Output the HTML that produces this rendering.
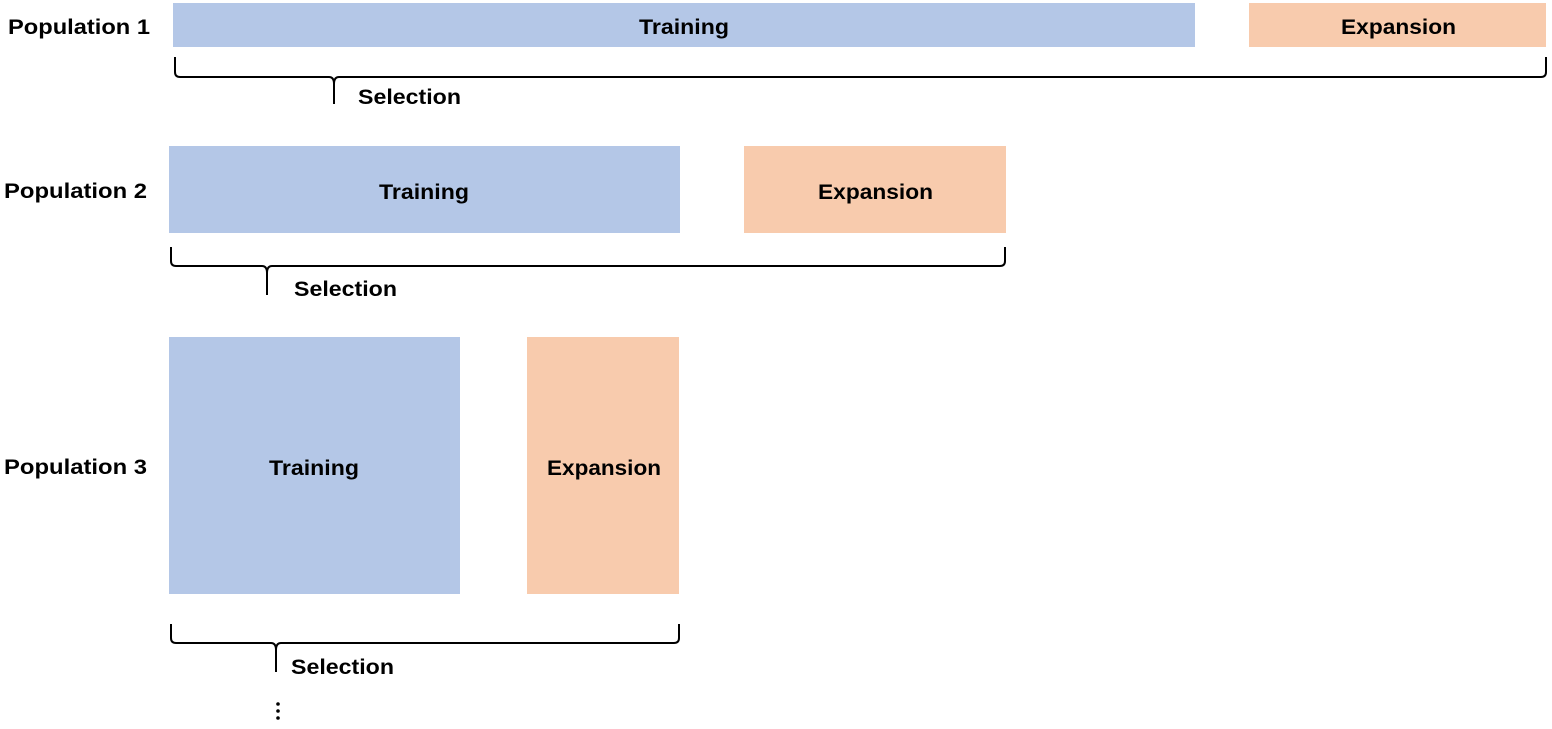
<!DOCTYPE html>
<html><head><meta charset="utf-8"><style>
html,body{margin:0;padding:0;background:#fff;}
svg{display:block;}
text{font-family:"Liberation Sans",sans-serif;font-weight:bold;font-size:21px;fill:#000;}
</style></head><body>
<svg width="1552" height="729" viewBox="0 0 1552 729" xmlns="http://www.w3.org/2000/svg">
<rect x="173" y="3" width="1022" height="44" fill="#b4c7e7"/>
<rect x="1249" y="3" width="297" height="44" fill="#f8cbad"/>
<rect x="169" y="146" width="511" height="87" fill="#b4c7e7"/>
<rect x="744" y="146" width="262" height="87" fill="#f8cbad"/>
<rect x="169" y="337" width="291" height="257" fill="#b4c7e7"/>
<rect x="527" y="337" width="152" height="257" fill="#f8cbad"/>

<g fill="none" stroke="#000" stroke-width="2">
<path d="M175 57 V72 Q175 77 180 77 H329 Q334 77 334 84 V104 M334 84 Q334 77 339 77 H1541 Q1546 77 1546 72 V57"/>
<path d="M171 247 V261 Q171 266 176 266 H262 Q267 266 267 273 V295 M267 273 Q267 266 272 266 H1000 Q1005 266 1005 261 V247"/>
<path d="M171 624 V638 Q171 643 176 643 H271 Q276 643 276 650 V672 M276 650 Q276 643 281 643 H674 Q679 643 679 638 V624"/>
</g>
<circle cx="278" cy="704" r="1.8"/><circle cx="278" cy="711" r="1.8"/><circle cx="278" cy="718" r="1.8"/>

<text x="8" y="34" textLength="142" lengthAdjust="spacingAndGlyphs">Population 1</text>
<text x="4" y="198" textLength="143" lengthAdjust="spacingAndGlyphs">Population 2</text>
<text x="4" y="474" textLength="143" lengthAdjust="spacingAndGlyphs">Population 3</text>

<text x="639" y="34" textLength="90" lengthAdjust="spacingAndGlyphs">Training</text>
<text x="1341" y="34" textLength="115" lengthAdjust="spacingAndGlyphs">Expansion</text>
<text x="379" y="199" textLength="90" lengthAdjust="spacingAndGlyphs">Training</text>
<text x="818" y="199" textLength="115" lengthAdjust="spacingAndGlyphs">Expansion</text>
<text x="269" y="475" textLength="90" lengthAdjust="spacingAndGlyphs">Training</text>
<text x="547" y="475" textLength="114" lengthAdjust="spacingAndGlyphs">Expansion</text>

<text x="358" y="104" textLength="103" lengthAdjust="spacingAndGlyphs">Selection</text>
<text x="294" y="296" textLength="103" lengthAdjust="spacingAndGlyphs">Selection</text>
<text x="291" y="674" textLength="103" lengthAdjust="spacingAndGlyphs">Selection</text>
</svg>
</body></html>
